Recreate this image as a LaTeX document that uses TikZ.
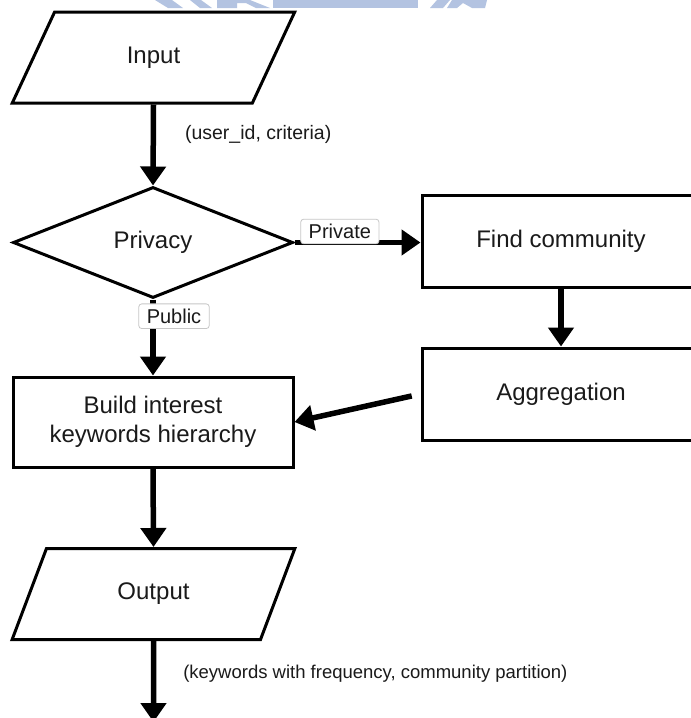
\documentclass[tikz,border=0pt]{standalone}
\usepackage{fontspec}
\setmainfont{Liberation Sans}
\usetikzlibrary{shapes.geometric,arrows.meta}
\definecolor{emblemblue}{HTML}{B3C3E1}
\definecolor{ink}{HTML}{1A1A1A}
\begin{document}
\begin{tikzpicture}[x=1pt,y=-1pt,
  mainfont/.style={font=\fontsize{24}{29}\selectfont, text=ink},
  box/.style={draw, line width=3pt, rectangle, inner sep=0pt, align=center, mainfont},
  io/.style={draw, line width=3pt, trapezium, trapezium left angle=62,
    trapezium right angle=118, trapezium stretches=true,
    minimum width=283pt, minimum height=91pt, inner sep=0pt, mainfont},
  decision/.style={draw, line width=3pt, diamond, shape aspect=2.52,
    minimum width=280pt, minimum height=111pt, inner sep=0pt, mainfont},
  flow/.style={line width=5.5pt, -{Triangle[length=19pt,width=25pt]}},
  tag/.style={draw=black!22, fill=white, rounded corners=3pt, line width=0.8pt,
    font=\fontsize{20}{22}\selectfont, text=ink, inner xsep=8pt, inner ysep=5pt},
  note/.style={font=\fontsize{19.5}{22}\selectfont, text=ink, inner sep=0pt, anchor=west},
  emblem/.style={fill=emblemblue, draw=none}
]
\useasboundingbox (0,0) rectangle (691,718);
\fill[white] (0,0) rectangle (691,718);
\clip (0,0) rectangle (691,718);

% faint emblem along the top edge
\fill[emblem] (155,0) -- (172,0) -- (183,8) -- (168,8) -- cycle;
\fill[emblem] (190,0) -- (201,0) -- (212,8) -- (200,8) -- cycle;
\fill[emblem] (217,0) -- (250,0) -- (270,8) -- (256,8) -- (246,3) -- (237,3) -- (237,8) -- (217,8) -- cycle;
\fill[emblem] (273,0) rectangle (418,8);
\fill[emblem] (437,0) -- (450,0) -- (443,8) -- (430,8) -- cycle;
\fill[emblem] (452,0) -- (487,0) -- (485,8) -- (472,8) -- (463,3) -- (457,8) -- (447,8) -- cycle;

% flowchart nodes
\node[io] (in) at (153.5,57.5) {Input};
\node[decision] (priv) at (153,242.5) {Privacy};
\node[box, minimum width=278pt, minimum height=92pt] (find) at (561,241) {Find community};
\node[box, minimum width=278pt, minimum height=92pt] (agg) at (561,394) {Aggregation};
\node[box, minimum width=280pt, minimum height=90pt] (build) at (153,422) {Build interest\\keywords hierarchy};
\node[io] (out) at (153.5,594) {Output};
\coordinate (end) at (153.5,722);

% connectors
\draw[flow] (in.south) -- node[note, pos=0.37, xshift=29pt] {(user\_id, criteria)} (priv.north);
\draw[flow] (priv.east) -- node[tag, pos=0.36, yshift=11pt] {Private} (priv.east -| find.west);
\draw[flow] (priv.south) -- node[tag, pos=0.22, xshift=21pt] {Public} (build.north);
\draw[flow] (find.south) -- (agg.north);
\draw[flow, shorten <=9pt] (agg.west) -- (build.east);
\draw[flow] (build.south) -- (out.north);
\draw[flow] (out.south) -- node[note, pos=0.4, xshift=27pt, font=\fontsize{18.5}{22}\selectfont] {(keywords with frequency, community partition)} (end);
\end{tikzpicture}
\end{document}
